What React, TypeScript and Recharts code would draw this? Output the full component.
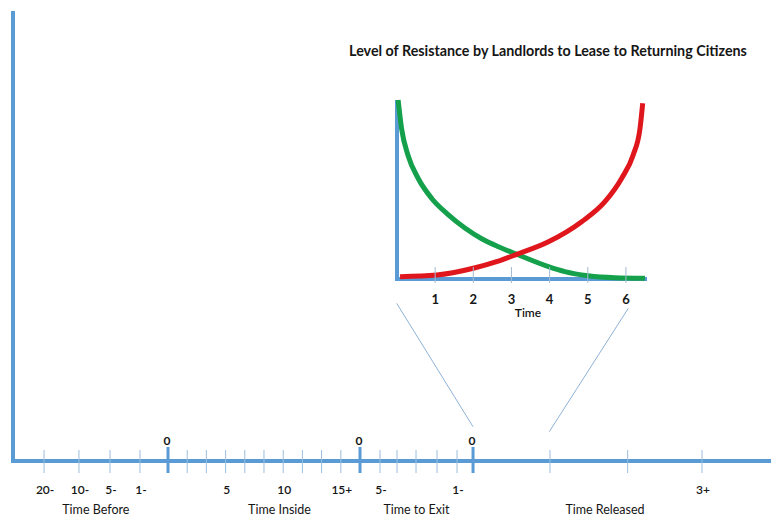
import { ComposedChart, LineChart, Line, XAxis, YAxis, ReferenceLine } from "recharts";

const FONT = "Lato, 'Open Sans', sans-serif";
const AXIS_BLUE = "#5b9bd5";
const TICK_BLUE = "#9dbddd";
const INK = "#161616";

// bottom timeline, positions given as % of the axis length
const timelineTicks = [
  4.1, 8.7, 12.8, 16.75, 20.45, 22.98, 25.51, 28.05, 30.58, 33.11, 35.65, 38.18,
  40.71, 43.25, 45.78, 48.42, 50.66, 53.17, 55.94, 58.58, 60.69, 70.84, 81.09, 90.9,
];
const timelineLabels = [
  "20-", "10-", "5-", "1-", "", "", "", "5", "", "", "10", "", "", "15+", "",
  "5-", "", "", "", "1-", "", "", "", "3+",
];
const zeroMarks = [20.45, 45.78, 60.69];

const sections = ["Time Before", "Time Inside", "Time to Exit", "Time Released"];
const sectionCenters = [10.93, 35.16, 53.23, 78.1];

// zoom lines from the timeline up to the inset
const connectorTimeline = [60.69, 70.75];
const connectorLow = [7.62, 6.51];
const connectorInsetX = [50.62, 81.17];
const connectorHigh = [35.04, 33.93];

// inset: level of resistance over time
const insetTicks = [1, 2, 3, 4, 5, 6];
const greenTime = [0.03, 0.12, 0.29, 0.56, 0.91, 1.34, 1.78, 2.22, 2.66, 3.14, 3.97, 4.4, 5.01, 5.71, 6.5];
const greenLevel = [100, 84, 69, 56, 45, 36, 28.5, 22.5, 18, 13.8, 6.9, 4.1, 1.8, 0.7, 0.4];
const redTime = [0.08, 1.04, 2.0, 2.61, 3.14, 3.97, 4.84, 5.45, 5.89, 6.19, 6.37, 6.44];
const redLevel = [1.3, 2.2, 6.0, 9.7, 13.8, 20.8, 32.0, 43.2, 56.3, 69.3, 84.2, 98.2];

const timelineData = timelineTicks.map((x) => ({ x, y: 0 }));
const greenData = greenTime.map((t, i) => ({ t, v: greenLevel[i] }));
const redData = redTime.map((t, i) => ({ t, v: redLevel[i] }));

function TimelineTick({ x, y, payload }: any) {
  const i = timelineTicks.indexOf(payload.value);
  const zero = zeroMarks.includes(payload.value);
  const label = timelineLabels[i];
  return (
    <g>
      <line
        x1={x}
        x2={x}
        y1={y - (zero ? 14 : 11)}
        y2={y + 12}
        stroke={zero ? AXIS_BLUE : TICK_BLUE}
        strokeWidth={zero ? 3 : 1}
      />
      {zero && (
        <text x={x - 1} y={y - 16} textAnchor="middle" fontSize={12} fontWeight={700} fontFamily={FONT} fill={INK}>
          0
        </text>
      )}
      {label && (
        <text x={x + 1} y={y + 33} textAnchor="middle" fontSize={12} fontWeight={600} fontFamily={FONT} fill={INK}>
          {label}
        </text>
      )}
    </g>
  );
}

function SectionTick({ x, y, payload }: any) {
  const i = sectionCenters.indexOf(payload.value);
  return (
    <text x={x} y={y + 23} textAnchor="middle" fontSize={12.5} fontFamily={FONT} fill={INK}>
      {sections[i]}
    </text>
  );
}

function InsetTick({ x, y, payload }: any) {
  return (
    <g>
      <line x1={x} x2={x} y1={y - 12} y2={y + 4} stroke="#a3bbd3" strokeWidth={1} />
      <text x={x} y={y + 25} textAnchor="middle" fontSize={13} fontWeight={700} fontFamily={FONT} fill={INK}>
        {payload.value}
      </text>
    </g>
  );
}

export default function App() {
  return (
    <div style={{ position: "absolute", left: 0, top: 0, width: 771, height: 517, background: "#fff", fontFamily: FONT }}>
      <ComposedChart width={771} height={517} data={timelineData} margin={{ top: 11, right: 0, bottom: 0, left: 12 }}>
        <XAxis
          type="number"
          dataKey="x"
          domain={[0, 100]}
          ticks={timelineTicks}
          interval={0}
          height={30}
          tickLine={false}
          tickSize={0}
          tickMargin={0}
          axisLine={{ stroke: AXIS_BLUE, strokeWidth: 4, strokeLinecap: "square" }}
          tick={<TimelineTick />}
        />
        <XAxis
          xAxisId="sections"
          type="number"
          dataKey="x"
          domain={[0, 100]}
          ticks={sectionCenters}
          interval={0}
          height={26}
          axisLine={false}
          tickLine={false}
          tickSize={0}
          tickMargin={0}
          tick={<SectionTick />}
        />
        <YAxis
          type="number"
          dataKey="y"
          domain={[0, 100]}
          width={1}
          tick={false}
          tickLine={false}
          axisLine={{ stroke: AXIS_BLUE, strokeWidth: 4 }}
        />
        {connectorTimeline.map((tx, i) => (
          <ReferenceLine
            key={i}
            segment={[
              { x: connectorInsetX[i], y: connectorHigh[i] },
              { x: tx, y: connectorLow[i] },
            ]}
            stroke="#8fb3d6"
            strokeWidth={1}
          />
        ))}
      </ComposedChart>

      <div
        style={{
          position: "absolute",
          left: 300,
          top: 43,
          width: 496,
          textAlign: "center",
          fontSize: 14.3,
          lineHeight: "16px",
          fontWeight: 700,
          color: INK,
          whiteSpace: "nowrap",
        }}
      >
        Level of Resistance by Landlords to Lease to Returning Citizens
      </div>

      <div style={{ position: "absolute", left: 380, top: 90 }}>
        <LineChart width={280} height={240} margin={{ top: 10, right: 15, bottom: 11, left: 16 }}>
          <XAxis
            type="number"
            dataKey="t"
            domain={[0, 6.5]}
            ticks={insetTicks}
            interval={0}
            height={40}
            tickLine={false}
            tickSize={0}
            tickMargin={0}
            axisLine={{ stroke: AXIS_BLUE, strokeWidth: 4, strokeLinecap: "square" }}
            tick={<InsetTick />}
            label={{ value: "Time", position: "insideBottom", offset: 2, dx: 7, fill: INK, fontSize: 12, fontWeight: 600, fontFamily: FONT }}
          />
          <YAxis
            type="number"
            domain={[0, 100]}
            width={1}
            tick={false}
            tickLine={false}
            axisLine={{ stroke: AXIS_BLUE, strokeWidth: 4 }}
          />
          <Line
            data={greenData}
            dataKey="v"
            type="monotone"
            stroke="#15a04c"
            strokeWidth={5}
            dot={false}
            isAnimationActive={false}
            zIndex={600}
          />
          <Line
            data={redData}
            dataKey="v"
            type="monotone"
            stroke="#e0161d"
            strokeWidth={5}
            dot={false}
            isAnimationActive={false}
            zIndex={650}
          />
        </LineChart>
      </div>
    </div>
  );
}
